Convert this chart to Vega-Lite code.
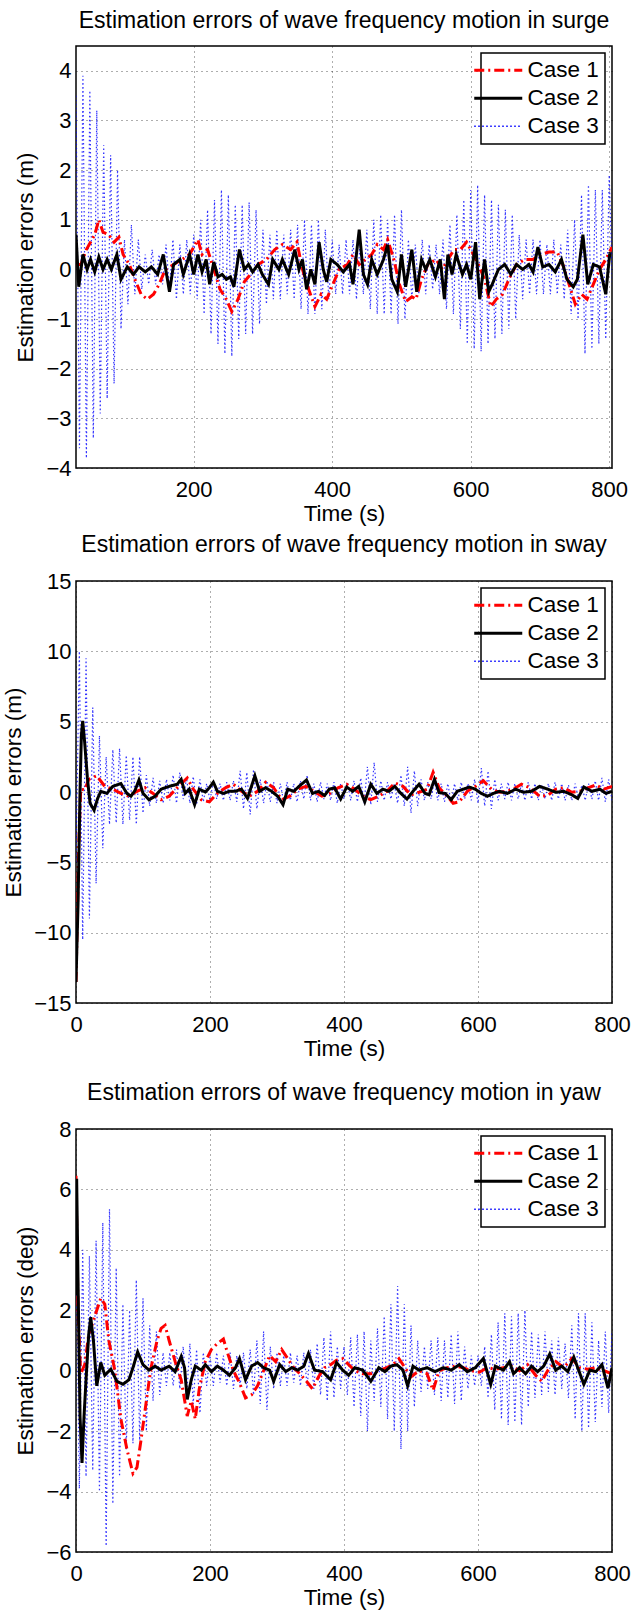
{
"$schema": "https://vega.github.io/schema/vega-lite/v6.json",
"background": "white",
"padding": {"left": 1, "top": 9, "right": 5, "bottom": 5},
"spacing": 7,
"resolve": {"scale": {"color": "independent", "strokeDash": "independent"}},
"datasets": {
"surge": [
{"c":"Case 3","t":30,"v":3.5},{"c":"Case 3","t":35,"v":-3.6},{"c":"Case 3","t":40,"v":3.9},{"c":"Case 3","t":45,"v":-3.8},{"c":"Case 3","t":50,"v":3.6},{"c":"Case 3","t":55,"v":-3.4},{"c":"Case 3","t":60,"v":3.2},{"c":"Case 3","t":65,"v":-2.9},{"c":"Case 3","t":70,"v":2.5},{"c":"Case 3","t":75,"v":-2.6},{"c":"Case 3","t":80,"v":2.3},{"c":"Case 3","t":85,"v":-2.3},{"c":"Case 3","t":90,"v":2.0},{"c":"Case 3","t":95,"v":-1.2},{"c":"Case 3","t":100,"v":0.6},{"c":"Case 3","t":105,"v":-0.7},{"c":"Case 3","t":110,"v":0.9},{"c":"Case 3","t":115,"v":-0.5},{"c":"Case 3","t":120,"v":0.6},{"c":"Case 3","t":125,"v":-0.4},{"c":"Case 3","t":130,"v":0.3},{"c":"Case 3","t":135,"v":-0.3},{"c":"Case 3","t":140,"v":0.4},{"c":"Case 3","t":145,"v":-0.3},{"c":"Case 3","t":150,"v":0.3},{"c":"Case 3","t":155,"v":-0.3},{"c":"Case 3","t":160,"v":0.5},{"c":"Case 3","t":165,"v":-0.4},{"c":"Case 3","t":170,"v":0.6},{"c":"Case 3","t":175,"v":-0.6},{"c":"Case 3","t":180,"v":0.5},{"c":"Case 3","t":185,"v":-0.5},{"c":"Case 3","t":190,"v":0.6},{"c":"Case 3","t":195,"v":-0.5},{"c":"Case 3","t":200,"v":0.7},{"c":"Case 3","t":205,"v":-0.6},{"c":"Case 3","t":210,"v":1.0},{"c":"Case 3","t":215,"v":-0.9},{"c":"Case 3","t":220,"v":1.2},{"c":"Case 3","t":225,"v":-1.3},{"c":"Case 3","t":230,"v":1.4},{"c":"Case 3","t":235,"v":-1.5},{"c":"Case 3","t":240,"v":1.6},{"c":"Case 3","t":245,"v":-1.7},{"c":"Case 3","t":250,"v":1.5},{"c":"Case 3","t":255,"v":-1.75},{"c":"Case 3","t":260,"v":1.3},{"c":"Case 3","t":265,"v":-1.4},{"c":"Case 3","t":270,"v":1.3},{"c":"Case 3","t":275,"v":-1.3},{"c":"Case 3","t":280,"v":1.35},{"c":"Case 3","t":285,"v":-1.3},{"c":"Case 3","t":290,"v":1.2},{"c":"Case 3","t":295,"v":-1.1},{"c":"Case 3","t":300,"v":0.8},{"c":"Case 3","t":305,"v":-0.7},{"c":"Case 3","t":310,"v":0.7},{"c":"Case 3","t":315,"v":-0.6},{"c":"Case 3","t":320,"v":0.8},{"c":"Case 3","t":325,"v":-0.6},{"c":"Case 3","t":330,"v":0.7},{"c":"Case 3","t":335,"v":-0.5},{"c":"Case 3","t":340,"v":0.8},{"c":"Case 3","t":345,"v":-0.6},{"c":"Case 3","t":350,"v":0.9},{"c":"Case 3","t":355,"v":-0.8},{"c":"Case 3","t":360,"v":1.0},{"c":"Case 3","t":365,"v":-0.9},{"c":"Case 3","t":370,"v":0.9},{"c":"Case 3","t":375,"v":-0.9},{"c":"Case 3","t":380,"v":1.0},{"c":"Case 3","t":385,"v":-0.8},{"c":"Case 3","t":390,"v":0.8},{"c":"Case 3","t":395,"v":-0.6},{"c":"Case 3","t":400,"v":0.6},{"c":"Case 3","t":405,"v":-0.5},{"c":"Case 3","t":410,"v":0.5},{"c":"Case 3","t":415,"v":-0.5},{"c":"Case 3","t":420,"v":0.6},{"c":"Case 3","t":425,"v":-0.5},{"c":"Case 3","t":430,"v":0.6},{"c":"Case 3","t":435,"v":-0.6},{"c":"Case 3","t":440,"v":0.5},{"c":"Case 3","t":445,"v":-0.5},{"c":"Case 3","t":450,"v":0.8},{"c":"Case 3","t":455,"v":-0.8},{"c":"Case 3","t":460,"v":1.0},{"c":"Case 3","t":465,"v":-0.9},{"c":"Case 3","t":470,"v":1.1},{"c":"Case 3","t":475,"v":-0.9},{"c":"Case 3","t":480,"v":1.0},{"c":"Case 3","t":485,"v":-0.9},{"c":"Case 3","t":490,"v":1.1},{"c":"Case 3","t":495,"v":-1.1},{"c":"Case 3","t":500,"v":1.2},{"c":"Case 3","t":505,"v":-1.0},{"c":"Case 3","t":510,"v":0.6},{"c":"Case 3","t":515,"v":-0.6},{"c":"Case 3","t":520,"v":0.5},{"c":"Case 3","t":525,"v":-0.5},{"c":"Case 3","t":530,"v":0.6},{"c":"Case 3","t":535,"v":-0.5},{"c":"Case 3","t":540,"v":0.5},{"c":"Case 3","t":545,"v":-0.4},{"c":"Case 3","t":550,"v":0.5},{"c":"Case 3","t":555,"v":-0.5},{"c":"Case 3","t":560,"v":0.6},{"c":"Case 3","t":565,"v":-0.8},{"c":"Case 3","t":570,"v":0.9},{"c":"Case 3","t":575,"v":-0.9},{"c":"Case 3","t":580,"v":1.1},{"c":"Case 3","t":585,"v":-1.2},{"c":"Case 3","t":590,"v":1.4},{"c":"Case 3","t":595,"v":-1.5},{"c":"Case 3","t":600,"v":1.6},{"c":"Case 3","t":605,"v":-1.6},{"c":"Case 3","t":610,"v":1.7},{"c":"Case 3","t":615,"v":-1.65},{"c":"Case 3","t":620,"v":1.5},{"c":"Case 3","t":625,"v":-1.5},{"c":"Case 3","t":630,"v":1.4},{"c":"Case 3","t":635,"v":-1.4},{"c":"Case 3","t":640,"v":1.3},{"c":"Case 3","t":645,"v":-1.3},{"c":"Case 3","t":650,"v":1.2},{"c":"Case 3","t":655,"v":-1.2},{"c":"Case 3","t":660,"v":1.1},{"c":"Case 3","t":665,"v":-1.0},{"c":"Case 3","t":670,"v":0.7},{"c":"Case 3","t":675,"v":-0.6},{"c":"Case 3","t":680,"v":0.6},{"c":"Case 3","t":685,"v":-0.5},{"c":"Case 3","t":690,"v":0.6},{"c":"Case 3","t":695,"v":-0.5},{"c":"Case 3","t":700,"v":0.6},{"c":"Case 3","t":705,"v":-0.5},{"c":"Case 3","t":710,"v":0.5},{"c":"Case 3","t":715,"v":-0.5},{"c":"Case 3","t":720,"v":0.6},{"c":"Case 3","t":725,"v":-0.5},{"c":"Case 3","t":730,"v":0.5},{"c":"Case 3","t":735,"v":-0.6},{"c":"Case 3","t":740,"v":0.8},{"c":"Case 3","t":745,"v":-0.9},{"c":"Case 3","t":750,"v":1.0},{"c":"Case 3","t":755,"v":-1.0},{"c":"Case 3","t":760,"v":1.5},{"c":"Case 3","t":765,"v":-1.7},{"c":"Case 3","t":770,"v":1.7},{"c":"Case 3","t":775,"v":-1.6},{"c":"Case 3","t":780,"v":1.6},{"c":"Case 3","t":785,"v":-1.5},{"c":"Case 3","t":790,"v":1.6},{"c":"Case 3","t":795,"v":-1.4},{"c":"Case 3","t":800,"v":1.9},{"c":"Case 3","t":805,"v":-0.5},
{"c":"Case 1","t":30,"v":0.1},{"c":"Case 1","t":37,"v":0.1},{"c":"Case 1","t":45,"v":0.4},{"c":"Case 1","t":57,"v":0.7},{"c":"Case 1","t":63,"v":1.0},{"c":"Case 1","t":69,"v":0.75},{"c":"Case 1","t":77,"v":0.7},{"c":"Case 1","t":85,"v":0.55},{"c":"Case 1","t":92,"v":0.65},{"c":"Case 1","t":98,"v":0.3},{"c":"Case 1","t":107,"v":0.1},{"c":"Case 1","t":115,"v":-0.2},{"c":"Case 1","t":124,"v":-0.5},{"c":"Case 1","t":133,"v":-0.6},{"c":"Case 1","t":142,"v":-0.5},{"c":"Case 1","t":150,"v":-0.3},{"c":"Case 1","t":159,"v":0.0},{"c":"Case 1","t":171,"v":0.1},{"c":"Case 1","t":183,"v":0.2},{"c":"Case 1","t":194,"v":0.3},{"c":"Case 1","t":206,"v":0.6},{"c":"Case 1","t":212,"v":0.3},{"c":"Case 1","t":220,"v":0.4},{"c":"Case 1","t":229,"v":0.0},{"c":"Case 1","t":238,"v":-0.4},{"c":"Case 1","t":247,"v":-0.6},{"c":"Case 1","t":255,"v":-0.85},{"c":"Case 1","t":264,"v":-0.6},{"c":"Case 1","t":273,"v":-0.25},{"c":"Case 1","t":282,"v":-0.1},{"c":"Case 1","t":293,"v":0.1},{"c":"Case 1","t":305,"v":0.2},{"c":"Case 1","t":317,"v":0.4},{"c":"Case 1","t":328,"v":0.5},{"c":"Case 1","t":340,"v":0.4},{"c":"Case 1","t":349,"v":0.55},{"c":"Case 1","t":357,"v":0.0},{"c":"Case 1","t":366,"v":-0.4},{"c":"Case 1","t":375,"v":-0.75},{"c":"Case 1","t":384,"v":-0.5},{"c":"Case 1","t":392,"v":-0.6},{"c":"Case 1","t":401,"v":-0.3},{"c":"Case 1","t":410,"v":0.0},{"c":"Case 1","t":422,"v":0.1},{"c":"Case 1","t":430,"v":0.3},{"c":"Case 1","t":439,"v":0.1},{"c":"Case 1","t":448,"v":0.2},{"c":"Case 1","t":457,"v":0.3},{"c":"Case 1","t":465,"v":0.5},{"c":"Case 1","t":474,"v":0.4},{"c":"Case 1","t":480,"v":0.6},{"c":"Case 1","t":489,"v":0.2},{"c":"Case 1","t":497,"v":-0.3},{"c":"Case 1","t":506,"v":-0.65},{"c":"Case 1","t":515,"v":-0.55},{"c":"Case 1","t":521,"v":-0.6},{"c":"Case 1","t":529,"v":-0.2},{"c":"Case 1","t":538,"v":0.1},{"c":"Case 1","t":550,"v":0.2},{"c":"Case 1","t":559,"v":0.0},{"c":"Case 1","t":567,"v":0.2},{"c":"Case 1","t":576,"v":0.4},{"c":"Case 1","t":585,"v":0.4},{"c":"Case 1","t":594,"v":0.55},{"c":"Case 1","t":602,"v":0.35},{"c":"Case 1","t":611,"v":0.1},{"c":"Case 1","t":620,"v":-0.2},{"c":"Case 1","t":629,"v":-0.75},{"c":"Case 1","t":637,"v":-0.6},{"c":"Case 1","t":646,"v":-0.5},{"c":"Case 1","t":655,"v":-0.2},{"c":"Case 1","t":666,"v":0.1},{"c":"Case 1","t":678,"v":0.2},{"c":"Case 1","t":690,"v":0.2},{"c":"Case 1","t":701,"v":0.3},{"c":"Case 1","t":713,"v":0.35},{"c":"Case 1","t":725,"v":0.35},{"c":"Case 1","t":733,"v":0.1},{"c":"Case 1","t":742,"v":-0.3},{"c":"Case 1","t":751,"v":-0.7},{"c":"Case 1","t":760,"v":-0.5},{"c":"Case 1","t":768,"v":-0.6},{"c":"Case 1","t":777,"v":-0.3},{"c":"Case 1","t":786,"v":0.0},{"c":"Case 1","t":795,"v":0.2},{"c":"Case 1","t":804,"v":0.45},
{"c":"Case 2","t":30,"v":0.7},{"c":"Case 2","t":34,"v":-0.35},{"c":"Case 2","t":40,"v":0.3},{"c":"Case 2","t":46,"v":0.0},{"c":"Case 2","t":51,"v":0.2},{"c":"Case 2","t":57,"v":-0.05},{"c":"Case 2","t":63,"v":0.25},{"c":"Case 2","t":69,"v":0.0},{"c":"Case 2","t":75,"v":0.2},{"c":"Case 2","t":81,"v":0.0},{"c":"Case 2","t":89,"v":0.3},{"c":"Case 2","t":95,"v":-0.2},{"c":"Case 2","t":104,"v":0.05},{"c":"Case 2","t":113,"v":-0.1},{"c":"Case 2","t":121,"v":0.05},{"c":"Case 2","t":130,"v":-0.05},{"c":"Case 2","t":139,"v":0.05},{"c":"Case 2","t":148,"v":-0.1},{"c":"Case 2","t":156,"v":0.3},{"c":"Case 2","t":165,"v":-0.45},{"c":"Case 2","t":171,"v":0.1},{"c":"Case 2","t":180,"v":0.2},{"c":"Case 2","t":185,"v":-0.1},{"c":"Case 2","t":194,"v":0.3},{"c":"Case 2","t":200,"v":-0.1},{"c":"Case 2","t":206,"v":0.3},{"c":"Case 2","t":212,"v":-0.05},{"c":"Case 2","t":218,"v":0.2},{"c":"Case 2","t":223,"v":-0.3},{"c":"Case 2","t":229,"v":0.15},{"c":"Case 2","t":235,"v":-0.15},{"c":"Case 2","t":241,"v":-0.1},{"c":"Case 2","t":247,"v":-0.2},{"c":"Case 2","t":253,"v":-0.15},{"c":"Case 2","t":258,"v":-0.35},{"c":"Case 2","t":266,"v":0.4},{"c":"Case 2","t":273,"v":0.0},{"c":"Case 2","t":279,"v":0.1},{"c":"Case 2","t":285,"v":-0.05},{"c":"Case 2","t":293,"v":0.1},{"c":"Case 2","t":299,"v":-0.1},{"c":"Case 2","t":308,"v":-0.3},{"c":"Case 2","t":314,"v":0.2},{"c":"Case 2","t":323,"v":0.0},{"c":"Case 2","t":328,"v":0.2},{"c":"Case 2","t":337,"v":-0.1},{"c":"Case 2","t":346,"v":0.4},{"c":"Case 2","t":352,"v":0.0},{"c":"Case 2","t":357,"v":0.2},{"c":"Case 2","t":363,"v":-0.4},{"c":"Case 2","t":369,"v":0.0},{"c":"Case 2","t":375,"v":-0.3},{"c":"Case 2","t":381,"v":0.55},{"c":"Case 2","t":387,"v":0.0},{"c":"Case 2","t":392,"v":-0.25},{"c":"Case 2","t":398,"v":0.2},{"c":"Case 2","t":407,"v":0.1},{"c":"Case 2","t":416,"v":-0.05},{"c":"Case 2","t":425,"v":0.1},{"c":"Case 2","t":430,"v":-0.3},{"c":"Case 2","t":439,"v":0.8},{"c":"Case 2","t":445,"v":-0.1},{"c":"Case 2","t":451,"v":-0.3},{"c":"Case 2","t":457,"v":0.2},{"c":"Case 2","t":465,"v":-0.1},{"c":"Case 2","t":474,"v":0.2},{"c":"Case 2","t":480,"v":0.5},{"c":"Case 2","t":486,"v":-0.2},{"c":"Case 2","t":494,"v":-0.45},{"c":"Case 2","t":500,"v":0.3},{"c":"Case 2","t":506,"v":-0.35},{"c":"Case 2","t":515,"v":0.4},{"c":"Case 2","t":522,"v":-0.45},{"c":"Case 2","t":529,"v":0.2},{"c":"Case 2","t":535,"v":0.0},{"c":"Case 2","t":541,"v":0.2},{"c":"Case 2","t":549,"v":-0.15},{"c":"Case 2","t":556,"v":0.2},{"c":"Case 2","t":562,"v":-0.6},{"c":"Case 2","t":567,"v":0.3},{"c":"Case 2","t":573,"v":-0.1},{"c":"Case 2","t":579,"v":0.3},{"c":"Case 2","t":588,"v":-0.1},{"c":"Case 2","t":594,"v":0.1},{"c":"Case 2","t":600,"v":-0.2},{"c":"Case 2","t":607,"v":0.55},{"c":"Case 2","t":613,"v":-0.6},{"c":"Case 2","t":620,"v":0.2},{"c":"Case 2","t":626,"v":-0.45},{"c":"Case 2","t":631,"v":-0.3},{"c":"Case 2","t":640,"v":0.0},{"c":"Case 2","t":649,"v":0.1},{"c":"Case 2","t":658,"v":-0.1},{"c":"Case 2","t":666,"v":0.1},{"c":"Case 2","t":675,"v":0.0},{"c":"Case 2","t":684,"v":0.1},{"c":"Case 2","t":690,"v":-0.05},{"c":"Case 2","t":697,"v":0.45},{"c":"Case 2","t":704,"v":0.05},{"c":"Case 2","t":713,"v":0.1},{"c":"Case 2","t":722,"v":-0.05},{"c":"Case 2","t":731,"v":0.2},{"c":"Case 2","t":739,"v":-0.2},{"c":"Case 2","t":748,"v":-0.35},{"c":"Case 2","t":754,"v":-0.2},{"c":"Case 2","t":762,"v":0.7},{"c":"Case 2","t":769,"v":-0.3},{"c":"Case 2","t":777,"v":0.1},{"c":"Case 2","t":786,"v":0.05},{"c":"Case 2","t":795,"v":-0.5},{"c":"Case 2","t":801,"v":0.35}
],
"sway": [
{"c":"Case 3","t":0,"v":-5},{"c":"Case 3","t":5,"v":10},{"c":"Case 3","t":10,"v":-10.5},{"c":"Case 3","t":15,"v":9.5},{"c":"Case 3","t":20,"v":-9},{"c":"Case 3","t":25,"v":6},{"c":"Case 3","t":30,"v":-6.5},{"c":"Case 3","t":35,"v":4},{"c":"Case 3","t":40,"v":-4},{"c":"Case 3","t":45,"v":2.5},{"c":"Case 3","t":50,"v":-2.3},{"c":"Case 3","t":55,"v":3.0},{"c":"Case 3","t":60,"v":-2.2},{"c":"Case 3","t":65,"v":3.1},{"c":"Case 3","t":70,"v":-2.3},{"c":"Case 3","t":75,"v":2.6},{"c":"Case 3","t":80,"v":-2.0},{"c":"Case 3","t":85,"v":2.5},{"c":"Case 3","t":90,"v":-2.3},{"c":"Case 3","t":95,"v":2.5},{"c":"Case 3","t":100,"v":-1.5},{"c":"Case 3","t":105,"v":1.2},{"c":"Case 3","t":110,"v":-1.0},{"c":"Case 3","t":115,"v":1.0},{"c":"Case 3","t":120,"v":-0.8},{"c":"Case 3","t":125,"v":0.8},{"c":"Case 3","t":130,"v":-0.8},{"c":"Case 3","t":135,"v":0.9},{"c":"Case 3","t":140,"v":-0.6},{"c":"Case 3","t":145,"v":1.2},{"c":"Case 3","t":150,"v":-0.8},{"c":"Case 3","t":155,"v":1.4},{"c":"Case 3","t":160,"v":-0.5},{"c":"Case 3","t":165,"v":1.0},{"c":"Case 3","t":170,"v":-0.8},{"c":"Case 3","t":175,"v":1.1},{"c":"Case 3","t":180,"v":-0.9},{"c":"Case 3","t":185,"v":0.9},{"c":"Case 3","t":190,"v":-0.7},{"c":"Case 3","t":195,"v":0.6},{"c":"Case 3","t":200,"v":-0.6},{"c":"Case 3","t":205,"v":0.8},{"c":"Case 3","t":210,"v":-0.5},{"c":"Case 3","t":215,"v":0.6},{"c":"Case 3","t":220,"v":-0.6},{"c":"Case 3","t":225,"v":0.7},{"c":"Case 3","t":230,"v":-0.6},{"c":"Case 3","t":235,"v":0.8},{"c":"Case 3","t":240,"v":-0.7},{"c":"Case 3","t":245,"v":1.5},{"c":"Case 3","t":250,"v":-1.2},{"c":"Case 3","t":255,"v":1.4},{"c":"Case 3","t":260,"v":-1.6},{"c":"Case 3","t":265,"v":1.6},{"c":"Case 3","t":270,"v":-1.2},{"c":"Case 3","t":275,"v":0.9},{"c":"Case 3","t":280,"v":-0.8},{"c":"Case 3","t":285,"v":0.8},{"c":"Case 3","t":290,"v":-0.7},{"c":"Case 3","t":295,"v":0.7},{"c":"Case 3","t":300,"v":-0.8},{"c":"Case 3","t":305,"v":0.6},{"c":"Case 3","t":310,"v":-0.7},{"c":"Case 3","t":315,"v":0.7},{"c":"Case 3","t":320,"v":-0.6},{"c":"Case 3","t":325,"v":0.6},{"c":"Case 3","t":330,"v":-0.7},{"c":"Case 3","t":335,"v":0.8},{"c":"Case 3","t":340,"v":-0.5},{"c":"Case 3","t":345,"v":1.2},{"c":"Case 3","t":350,"v":-0.6},{"c":"Case 3","t":355,"v":0.6},{"c":"Case 3","t":360,"v":-0.7},{"c":"Case 3","t":365,"v":0.7},{"c":"Case 3","t":370,"v":-0.5},{"c":"Case 3","t":375,"v":0.6},{"c":"Case 3","t":380,"v":-0.6},{"c":"Case 3","t":385,"v":0.7},{"c":"Case 3","t":390,"v":-0.8},{"c":"Case 3","t":395,"v":0.6},{"c":"Case 3","t":400,"v":-0.5},{"c":"Case 3","t":405,"v":0.7},{"c":"Case 3","t":410,"v":-0.6},{"c":"Case 3","t":415,"v":0.8},{"c":"Case 3","t":420,"v":-0.7},{"c":"Case 3","t":425,"v":1.0},{"c":"Case 3","t":430,"v":-0.8},{"c":"Case 3","t":435,"v":1.8},{"c":"Case 3","t":440,"v":-0.9},{"c":"Case 3","t":445,"v":2.1},{"c":"Case 3","t":450,"v":-0.7},{"c":"Case 3","t":455,"v":0.8},{"c":"Case 3","t":460,"v":-0.6},{"c":"Case 3","t":465,"v":0.7},{"c":"Case 3","t":470,"v":-0.5},{"c":"Case 3","t":475,"v":0.6},{"c":"Case 3","t":480,"v":-0.8},{"c":"Case 3","t":485,"v":1.2},{"c":"Case 3","t":490,"v":-1.0},{"c":"Case 3","t":495,"v":1.8},{"c":"Case 3","t":500,"v":-1.5},{"c":"Case 3","t":505,"v":1.5},{"c":"Case 3","t":510,"v":-1.0},{"c":"Case 3","t":515,"v":0.9},{"c":"Case 3","t":520,"v":-0.6},{"c":"Case 3","t":525,"v":0.7},{"c":"Case 3","t":530,"v":-0.5},{"c":"Case 3","t":535,"v":0.8},{"c":"Case 3","t":540,"v":-0.6},{"c":"Case 3","t":545,"v":0.6},{"c":"Case 3","t":550,"v":-0.7},{"c":"Case 3","t":555,"v":0.6},{"c":"Case 3","t":560,"v":-0.8},{"c":"Case 3","t":565,"v":0.6},{"c":"Case 3","t":570,"v":-0.6},{"c":"Case 3","t":575,"v":0.7},{"c":"Case 3","t":580,"v":-0.5},{"c":"Case 3","t":585,"v":0.6},{"c":"Case 3","t":590,"v":-0.6},{"c":"Case 3","t":595,"v":0.9},{"c":"Case 3","t":600,"v":-0.8},{"c":"Case 3","t":605,"v":1.7},{"c":"Case 3","t":610,"v":-1.0},{"c":"Case 3","t":615,"v":1.5},{"c":"Case 3","t":620,"v":-1.2},{"c":"Case 3","t":625,"v":0.9},{"c":"Case 3","t":630,"v":-0.6},{"c":"Case 3","t":635,"v":0.6},{"c":"Case 3","t":640,"v":-0.5},{"c":"Case 3","t":645,"v":0.7},{"c":"Case 3","t":650,"v":-0.6},{"c":"Case 3","t":655,"v":0.6},{"c":"Case 3","t":660,"v":-0.5},{"c":"Case 3","t":665,"v":0.6},{"c":"Case 3","t":670,"v":-0.6},{"c":"Case 3","t":675,"v":0.7},{"c":"Case 3","t":680,"v":-0.5},{"c":"Case 3","t":685,"v":0.6},{"c":"Case 3","t":690,"v":-0.6},{"c":"Case 3","t":695,"v":0.5},{"c":"Case 3","t":700,"v":-0.5},{"c":"Case 3","t":705,"v":0.6},{"c":"Case 3","t":710,"v":-0.6},{"c":"Case 3","t":715,"v":0.7},{"c":"Case 3","t":720,"v":-0.5},{"c":"Case 3","t":725,"v":0.6},{"c":"Case 3","t":730,"v":-0.6},{"c":"Case 3","t":735,"v":0.5},{"c":"Case 3","t":740,"v":-0.6},{"c":"Case 3","t":745,"v":0.6},{"c":"Case 3","t":750,"v":-0.5},{"c":"Case 3","t":755,"v":0.5},{"c":"Case 3","t":760,"v":-0.6},{"c":"Case 3","t":765,"v":0.6},{"c":"Case 3","t":770,"v":-0.5},{"c":"Case 3","t":775,"v":0.8},{"c":"Case 3","t":780,"v":-0.6},{"c":"Case 3","t":785,"v":1.0},{"c":"Case 3","t":790,"v":-0.7},{"c":"Case 3","t":795,"v":0.9},{"c":"Case 3","t":800,"v":-0.6},
{"c":"Case 1","t":0,"v":-13.5},{"c":"Case 1","t":4,"v":-4},{"c":"Case 1","t":7,"v":0.2},{"c":"Case 1","t":13,"v":0.15},{"c":"Case 1","t":19,"v":0.9},{"c":"Case 1","t":31,"v":1.15},{"c":"Case 1","t":43,"v":0.4},{"c":"Case 1","t":55,"v":0.2},{"c":"Case 1","t":67,"v":-0.1},{"c":"Case 1","t":79,"v":-0.3},{"c":"Case 1","t":91,"v":0.05},{"c":"Case 1","t":103,"v":0.3},{"c":"Case 1","t":115,"v":-0.1},{"c":"Case 1","t":127,"v":-0.55},{"c":"Case 1","t":139,"v":-0.3},{"c":"Case 1","t":151,"v":0.3},{"c":"Case 1","t":166,"v":1.0},{"c":"Case 1","t":175,"v":0.2},{"c":"Case 1","t":187,"v":-0.55},{"c":"Case 1","t":199,"v":-0.7},{"c":"Case 1","t":211,"v":-0.1},{"c":"Case 1","t":223,"v":0.3},{"c":"Case 1","t":235,"v":0.55},{"c":"Case 1","t":247,"v":0.05},{"c":"Case 1","t":259,"v":-0.3},{"c":"Case 1","t":271,"v":0.05},{"c":"Case 1","t":283,"v":0.7},{"c":"Case 1","t":295,"v":0.3},{"c":"Case 1","t":307,"v":-0.55},{"c":"Case 1","t":319,"v":-0.3},{"c":"Case 1","t":331,"v":0.2},{"c":"Case 1","t":343,"v":0.4},{"c":"Case 1","t":355,"v":0.05},{"c":"Case 1","t":367,"v":-0.3},{"c":"Case 1","t":379,"v":-0.1},{"c":"Case 1","t":391,"v":0.3},{"c":"Case 1","t":404,"v":0.55},{"c":"Case 1","t":416,"v":0.2},{"c":"Case 1","t":428,"v":-0.3},{"c":"Case 1","t":440,"v":-0.55},{"c":"Case 1","t":452,"v":-0.3},{"c":"Case 1","t":464,"v":0.05},{"c":"Case 1","t":476,"v":0.65},{"c":"Case 1","t":488,"v":0.4},{"c":"Case 1","t":500,"v":-0.2},{"c":"Case 1","t":512,"v":-0.02},{"c":"Case 1","t":524,"v":0.2},{"c":"Case 1","t":533,"v":1.4},{"c":"Case 1","t":542,"v":0.3},{"c":"Case 1","t":554,"v":-0.3},{"c":"Case 1","t":563,"v":-0.8},{"c":"Case 1","t":572,"v":-0.7},{"c":"Case 1","t":584,"v":0.05},{"c":"Case 1","t":596,"v":0.4},{"c":"Case 1","t":608,"v":0.8},{"c":"Case 1","t":620,"v":0.2},{"c":"Case 1","t":632,"v":-0.02},{"c":"Case 1","t":644,"v":0.05},{"c":"Case 1","t":656,"v":0.3},{"c":"Case 1","t":665,"v":0.55},{"c":"Case 1","t":677,"v":0.3},{"c":"Case 1","t":692,"v":-0.3},{"c":"Case 1","t":704,"v":-0.25},{"c":"Case 1","t":716,"v":0.2},{"c":"Case 1","t":728,"v":0.3},{"c":"Case 1","t":740,"v":-0.02},{"c":"Case 1","t":752,"v":0.05},{"c":"Case 1","t":764,"v":0.3},{"c":"Case 1","t":776,"v":0.5},{"c":"Case 1","t":788,"v":0.2},{"c":"Case 1","t":800,"v":0.4},
{"c":"Case 2","t":0,"v":-13.5},{"c":"Case 2","t":3,"v":-8},{"c":"Case 2","t":6,"v":0},{"c":"Case 2","t":8,"v":4},{"c":"Case 2","t":10,"v":5.06},{"c":"Case 2","t":13,"v":3.5},{"c":"Case 2","t":17,"v":1.0},{"c":"Case 2","t":21,"v":-0.8},{"c":"Case 2","t":27,"v":-1.3},{"c":"Case 2","t":32,"v":-0.5},{"c":"Case 2","t":37,"v":0.05},{"c":"Case 2","t":46,"v":-0.1},{"c":"Case 2","t":55,"v":0.4},{"c":"Case 2","t":67,"v":0.6},{"c":"Case 2","t":76,"v":-0.1},{"c":"Case 2","t":82,"v":-0.3},{"c":"Case 2","t":88,"v":0.1},{"c":"Case 2","t":94,"v":0.85},{"c":"Case 2","t":100,"v":-0.1},{"c":"Case 2","t":109,"v":-0.55},{"c":"Case 2","t":118,"v":-0.3},{"c":"Case 2","t":127,"v":0.2},{"c":"Case 2","t":139,"v":0.4},{"c":"Case 2","t":151,"v":0.55},{"c":"Case 2","t":157,"v":0.9},{"c":"Case 2","t":163,"v":-0.1},{"c":"Case 2","t":169,"v":0.2},{"c":"Case 2","t":177,"v":-0.9},{"c":"Case 2","t":184,"v":0.2},{"c":"Case 2","t":193,"v":0.0},{"c":"Case 2","t":199,"v":0.3},{"c":"Case 2","t":205,"v":0.7},{"c":"Case 2","t":211,"v":0.05},{"c":"Case 2","t":220,"v":-0.1},{"c":"Case 2","t":229,"v":0.05},{"c":"Case 2","t":238,"v":0.05},{"c":"Case 2","t":247,"v":0.2},{"c":"Case 2","t":256,"v":-0.45},{"c":"Case 2","t":267,"v":1.15},{"c":"Case 2","t":274,"v":0.05},{"c":"Case 2","t":283,"v":0.3},{"c":"Case 2","t":292,"v":0.05},{"c":"Case 2","t":301,"v":-0.3},{"c":"Case 2","t":309,"v":-0.9},{"c":"Case 2","t":316,"v":0.2},{"c":"Case 2","t":325,"v":0.05},{"c":"Case 2","t":334,"v":0.45},{"c":"Case 2","t":344,"v":0.85},{"c":"Case 2","t":353,"v":-0.1},{"c":"Case 2","t":362,"v":0.05},{"c":"Case 2","t":371,"v":-0.25},{"c":"Case 2","t":378,"v":0.2},{"c":"Case 2","t":386,"v":0.3},{"c":"Case 2","t":395,"v":-0.5},{"c":"Case 2","t":404,"v":0.35},{"c":"Case 2","t":413,"v":0.05},{"c":"Case 2","t":422,"v":0.4},{"c":"Case 2","t":431,"v":-0.7},{"c":"Case 2","t":440,"v":0.55},{"c":"Case 2","t":449,"v":-0.1},{"c":"Case 2","t":458,"v":0.2},{"c":"Case 2","t":467,"v":0.05},{"c":"Case 2","t":476,"v":0.4},{"c":"Case 2","t":485,"v":-0.1},{"c":"Case 2","t":494,"v":-0.5},{"c":"Case 2","t":503,"v":0.05},{"c":"Case 2","t":512,"v":0.55},{"c":"Case 2","t":521,"v":-0.1},{"c":"Case 2","t":527,"v":-0.2},{"c":"Case 2","t":535,"v":0.9},{"c":"Case 2","t":542,"v":-0.05},{"c":"Case 2","t":551,"v":-0.1},{"c":"Case 2","t":560,"v":-0.55},{"c":"Case 2","t":569,"v":0.05},{"c":"Case 2","t":578,"v":0.2},{"c":"Case 2","t":587,"v":0.35},{"c":"Case 2","t":596,"v":0.2},{"c":"Case 2","t":605,"v":-0.1},{"c":"Case 2","t":614,"v":-0.3},{"c":"Case 2","t":623,"v":-0.1},{"c":"Case 2","t":632,"v":0.05},{"c":"Case 2","t":644,"v":-0.1},{"c":"Case 2","t":656,"v":0.2},{"c":"Case 2","t":668,"v":-0.02},{"c":"Case 2","t":680,"v":0.05},{"c":"Case 2","t":692,"v":0.4},{"c":"Case 2","t":704,"v":0.2},{"c":"Case 2","t":716,"v":-0.02},{"c":"Case 2","t":728,"v":0.05},{"c":"Case 2","t":740,"v":-0.2},{"c":"Case 2","t":749,"v":-0.45},{"c":"Case 2","t":758,"v":0.35},{"c":"Case 2","t":770,"v":0.05},{"c":"Case 2","t":782,"v":0.2},{"c":"Case 2","t":791,"v":-0.1},{"c":"Case 2","t":800,"v":0.05}
],
"yaw": [
{"c":"Case 3","t":0,"v":4.5},{"c":"Case 3","t":5,"v":-3.9},{"c":"Case 3","t":10,"v":4.0},{"c":"Case 3","t":15,"v":-3.5},{"c":"Case 3","t":20,"v":3.8},{"c":"Case 3","t":25,"v":-3.3},{"c":"Case 3","t":30,"v":4.3},{"c":"Case 3","t":35,"v":-4.0},{"c":"Case 3","t":40,"v":4.9},{"c":"Case 3","t":45,"v":-5.8},{"c":"Case 3","t":50,"v":5.35},{"c":"Case 3","t":55,"v":-4.4},{"c":"Case 3","t":60,"v":3.4},{"c":"Case 3","t":65,"v":-3.5},{"c":"Case 3","t":70,"v":2.2},{"c":"Case 3","t":75,"v":-2.6},{"c":"Case 3","t":80,"v":2.0},{"c":"Case 3","t":85,"v":-2.4},{"c":"Case 3","t":90,"v":3.0},{"c":"Case 3","t":95,"v":-2.3},{"c":"Case 3","t":100,"v":2.4},{"c":"Case 3","t":105,"v":-2.0},{"c":"Case 3","t":110,"v":1.5},{"c":"Case 3","t":115,"v":-1.0},{"c":"Case 3","t":120,"v":1.3},{"c":"Case 3","t":125,"v":-0.8},{"c":"Case 3","t":130,"v":0.6},{"c":"Case 3","t":135,"v":-0.5},{"c":"Case 3","t":140,"v":0.6},{"c":"Case 3","t":145,"v":-0.5},{"c":"Case 3","t":150,"v":0.7},{"c":"Case 3","t":155,"v":-0.6},{"c":"Case 3","t":160,"v":0.8},{"c":"Case 3","t":165,"v":-0.9},{"c":"Case 3","t":170,"v":0.9},{"c":"Case 3","t":175,"v":-1.1},{"c":"Case 3","t":180,"v":0.7},{"c":"Case 3","t":185,"v":-1.4},{"c":"Case 3","t":190,"v":0.6},{"c":"Case 3","t":195,"v":-0.5},{"c":"Case 3","t":200,"v":0.5},{"c":"Case 3","t":205,"v":-0.5},{"c":"Case 3","t":210,"v":0.6},{"c":"Case 3","t":215,"v":-0.4},{"c":"Case 3","t":220,"v":0.5},{"c":"Case 3","t":225,"v":-0.5},{"c":"Case 3","t":230,"v":0.6},{"c":"Case 3","t":235,"v":-0.6},{"c":"Case 3","t":240,"v":0.5},{"c":"Case 3","t":245,"v":-0.5},{"c":"Case 3","t":250,"v":0.6},{"c":"Case 3","t":255,"v":-0.6},{"c":"Case 3","t":260,"v":0.7},{"c":"Case 3","t":265,"v":-0.8},{"c":"Case 3","t":270,"v":1.0},{"c":"Case 3","t":275,"v":-1.1},{"c":"Case 3","t":280,"v":1.3},{"c":"Case 3","t":285,"v":-1.3},{"c":"Case 3","t":290,"v":0.8},{"c":"Case 3","t":295,"v":-0.6},{"c":"Case 3","t":300,"v":0.6},{"c":"Case 3","t":305,"v":-0.5},{"c":"Case 3","t":310,"v":0.5},{"c":"Case 3","t":315,"v":-0.5},{"c":"Case 3","t":320,"v":0.6},{"c":"Case 3","t":325,"v":-0.4},{"c":"Case 3","t":330,"v":0.5},{"c":"Case 3","t":335,"v":-0.5},{"c":"Case 3","t":340,"v":0.6},{"c":"Case 3","t":345,"v":-0.5},{"c":"Case 3","t":350,"v":0.7},{"c":"Case 3","t":355,"v":-0.6},{"c":"Case 3","t":360,"v":0.9},{"c":"Case 3","t":365,"v":-0.8},{"c":"Case 3","t":370,"v":1.1},{"c":"Case 3","t":375,"v":-1.0},{"c":"Case 3","t":380,"v":1.3},{"c":"Case 3","t":385,"v":-0.9},{"c":"Case 3","t":390,"v":0.8},{"c":"Case 3","t":395,"v":-0.6},{"c":"Case 3","t":400,"v":0.8},{"c":"Case 3","t":405,"v":-0.8},{"c":"Case 3","t":410,"v":1.1},{"c":"Case 3","t":415,"v":-1.2},{"c":"Case 3","t":420,"v":1.2},{"c":"Case 3","t":425,"v":-1.5},{"c":"Case 3","t":430,"v":1.3},{"c":"Case 3","t":435,"v":-2.0},{"c":"Case 3","t":440,"v":1.0},{"c":"Case 3","t":445,"v":-1.0},{"c":"Case 3","t":450,"v":1.4},{"c":"Case 3","t":455,"v":-1.2},{"c":"Case 3","t":460,"v":1.8},{"c":"Case 3","t":465,"v":-1.6},{"c":"Case 3","t":470,"v":2.2},{"c":"Case 3","t":475,"v":-2.0},{"c":"Case 3","t":480,"v":2.8},{"c":"Case 3","t":485,"v":-2.6},{"c":"Case 3","t":490,"v":2.2},{"c":"Case 3","t":495,"v":-2.0},{"c":"Case 3","t":500,"v":1.5},{"c":"Case 3","t":505,"v":-1.2},{"c":"Case 3","t":510,"v":1.0},{"c":"Case 3","t":515,"v":-0.7},{"c":"Case 3","t":520,"v":0.8},{"c":"Case 3","t":525,"v":-0.6},{"c":"Case 3","t":530,"v":1.0},{"c":"Case 3","t":535,"v":-0.8},{"c":"Case 3","t":540,"v":1.1},{"c":"Case 3","t":545,"v":-1.0},{"c":"Case 3","t":550,"v":1.0},{"c":"Case 3","t":555,"v":-0.9},{"c":"Case 3","t":560,"v":1.2},{"c":"Case 3","t":565,"v":-1.1},{"c":"Case 3","t":570,"v":1.3},{"c":"Case 3","t":575,"v":-1.0},{"c":"Case 3","t":580,"v":0.8},{"c":"Case 3","t":585,"v":-0.6},{"c":"Case 3","t":590,"v":0.5},{"c":"Case 3","t":595,"v":-0.5},{"c":"Case 3","t":600,"v":0.5},{"c":"Case 3","t":605,"v":-0.5},{"c":"Case 3","t":610,"v":0.8},{"c":"Case 3","t":615,"v":-0.9},{"c":"Case 3","t":620,"v":1.2},{"c":"Case 3","t":625,"v":-1.3},{"c":"Case 3","t":630,"v":1.6},{"c":"Case 3","t":635,"v":-1.6},{"c":"Case 3","t":640,"v":1.9},{"c":"Case 3","t":645,"v":-1.8},{"c":"Case 3","t":650,"v":1.8},{"c":"Case 3","t":655,"v":-1.7},{"c":"Case 3","t":660,"v":1.9},{"c":"Case 3","t":665,"v":-1.8},{"c":"Case 3","t":670,"v":2.0},{"c":"Case 3","t":675,"v":-1.2},{"c":"Case 3","t":680,"v":1.3},{"c":"Case 3","t":685,"v":-0.9},{"c":"Case 3","t":690,"v":1.2},{"c":"Case 3","t":695,"v":-0.8},{"c":"Case 3","t":700,"v":1.3},{"c":"Case 3","t":705,"v":-0.7},{"c":"Case 3","t":710,"v":1.0},{"c":"Case 3","t":715,"v":-0.8},{"c":"Case 3","t":720,"v":1.1},{"c":"Case 3","t":725,"v":-0.6},{"c":"Case 3","t":730,"v":0.9},{"c":"Case 3","t":735,"v":-0.9},{"c":"Case 3","t":740,"v":1.5},{"c":"Case 3","t":745,"v":-1.6},{"c":"Case 3","t":750,"v":1.9},{"c":"Case 3","t":755,"v":-2.0},{"c":"Case 3","t":760,"v":1.9},{"c":"Case 3","t":765,"v":-1.9},{"c":"Case 3","t":770,"v":1.6},{"c":"Case 3","t":775,"v":-1.7},{"c":"Case 3","t":780,"v":1.0},{"c":"Case 3","t":785,"v":-1.2},{"c":"Case 3","t":790,"v":1.3},{"c":"Case 3","t":795,"v":-1.4},{"c":"Case 3","t":800,"v":1.3},
{"c":"Case 1","t":0,"v":6.45},{"c":"Case 1","t":3,"v":2.0},{"c":"Case 1","t":7,"v":-0.1},{"c":"Case 1","t":13,"v":0.2},{"c":"Case 1","t":19,"v":1.2},{"c":"Case 1","t":31,"v":2.0},{"c":"Case 1","t":37,"v":2.4},{"c":"Case 1","t":43,"v":2.2},{"c":"Case 1","t":49,"v":1.0},{"c":"Case 1","t":58,"v":0.0},{"c":"Case 1","t":67,"v":-1.6},{"c":"Case 1","t":76,"v":-2.6},{"c":"Case 1","t":85,"v":-3.4},{"c":"Case 1","t":91,"v":-3.2},{"c":"Case 1","t":97,"v":-2.3},{"c":"Case 1","t":105,"v":-1.0},{"c":"Case 1","t":112,"v":0.1},{"c":"Case 1","t":121,"v":1.0},{"c":"Case 1","t":127,"v":1.4},{"c":"Case 1","t":133,"v":1.5},{"c":"Case 1","t":139,"v":1.0},{"c":"Case 1","t":148,"v":0.3},{"c":"Case 1","t":157,"v":-0.3},{"c":"Case 1","t":166,"v":-1.5},{"c":"Case 1","t":172,"v":-1.0},{"c":"Case 1","t":178,"v":-1.6},{"c":"Case 1","t":184,"v":-0.6},{"c":"Case 1","t":193,"v":0.3},{"c":"Case 1","t":202,"v":0.7},{"c":"Case 1","t":211,"v":0.9},{"c":"Case 1","t":220,"v":1.05},{"c":"Case 1","t":226,"v":0.6},{"c":"Case 1","t":235,"v":0.0},{"c":"Case 1","t":244,"v":-0.4},{"c":"Case 1","t":253,"v":-0.9},{"c":"Case 1","t":262,"v":-0.8},{"c":"Case 1","t":271,"v":-0.5},{"c":"Case 1","t":280,"v":0.0},{"c":"Case 1","t":289,"v":0.5},{"c":"Case 1","t":298,"v":0.3},{"c":"Case 1","t":307,"v":0.7},{"c":"Case 1","t":316,"v":0.4},{"c":"Case 1","t":325,"v":0.1},{"c":"Case 1","t":334,"v":-0.1},{"c":"Case 1","t":344,"v":-0.35},{"c":"Case 1","t":353,"v":-0.6},{"c":"Case 1","t":362,"v":-0.2},{"c":"Case 1","t":371,"v":0.1},{"c":"Case 1","t":380,"v":0.2},{"c":"Case 1","t":389,"v":0.35},{"c":"Case 1","t":398,"v":0.4},{"c":"Case 1","t":407,"v":0.2},{"c":"Case 1","t":416,"v":0.0},{"c":"Case 1","t":428,"v":-0.1},{"c":"Case 1","t":440,"v":-0.1},{"c":"Case 1","t":452,"v":0.0},{"c":"Case 1","t":464,"v":0.1},{"c":"Case 1","t":473,"v":0.2},{"c":"Case 1","t":482,"v":0.4},{"c":"Case 1","t":491,"v":0.1},{"c":"Case 1","t":500,"v":-0.2},{"c":"Case 1","t":512,"v":0.0},{"c":"Case 1","t":524,"v":-0.1},{"c":"Case 1","t":533,"v":-0.65},{"c":"Case 1","t":542,"v":0.0},{"c":"Case 1","t":554,"v":0.1},{"c":"Case 1","t":566,"v":0.15},{"c":"Case 1","t":578,"v":0.1},{"c":"Case 1","t":590,"v":0.0},{"c":"Case 1","t":602,"v":-0.05},{"c":"Case 1","t":614,"v":0.1},{"c":"Case 1","t":626,"v":0.05},{"c":"Case 1","t":638,"v":0.1},{"c":"Case 1","t":650,"v":0.15},{"c":"Case 1","t":662,"v":0.0},{"c":"Case 1","t":674,"v":0.2},{"c":"Case 1","t":686,"v":-0.15},{"c":"Case 1","t":695,"v":-0.35},{"c":"Case 1","t":704,"v":0.0},{"c":"Case 1","t":716,"v":0.3},{"c":"Case 1","t":728,"v":0.1},{"c":"Case 1","t":740,"v":0.4},{"c":"Case 1","t":752,"v":0.1},{"c":"Case 1","t":764,"v":0.05},{"c":"Case 1","t":776,"v":0.1},{"c":"Case 1","t":788,"v":0.0},{"c":"Case 1","t":800,"v":-0.1},
{"c":"Case 2","t":0,"v":2.5},{"c":"Case 2","t":1,"v":6.35},{"c":"Case 2","t":3,"v":3.0},{"c":"Case 2","t":6,"v":-1.5},{"c":"Case 2","t":9,"v":-3.05},{"c":"Case 2","t":12,"v":-1.5},{"c":"Case 2","t":16,"v":0.1},{"c":"Case 2","t":19,"v":1.2},{"c":"Case 2","t":22,"v":1.77},{"c":"Case 2","t":26,"v":1.0},{"c":"Case 2","t":31,"v":-0.5},{"c":"Case 2","t":37,"v":0.27},{"c":"Case 2","t":43,"v":-0.15},{"c":"Case 2","t":52,"v":0.05},{"c":"Case 2","t":61,"v":-0.35},{"c":"Case 2","t":70,"v":-0.45},{"c":"Case 2","t":79,"v":-0.3},{"c":"Case 2","t":85,"v":0.1},{"c":"Case 2","t":92,"v":0.62},{"c":"Case 2","t":100,"v":0.2},{"c":"Case 2","t":109,"v":0.02},{"c":"Case 2","t":118,"v":0.15},{"c":"Case 2","t":127,"v":0.02},{"c":"Case 2","t":139,"v":0.15},{"c":"Case 2","t":148,"v":-0.03},{"c":"Case 2","t":157,"v":0.47},{"c":"Case 2","t":162,"v":0.1},{"c":"Case 2","t":166,"v":-0.95},{"c":"Case 2","t":172,"v":-0.3},{"c":"Case 2","t":178,"v":0.15},{"c":"Case 2","t":187,"v":0.02},{"c":"Case 2","t":193,"v":0.2},{"c":"Case 2","t":202,"v":-0.03},{"c":"Case 2","t":211,"v":0.15},{"c":"Case 2","t":220,"v":0.02},{"c":"Case 2","t":229,"v":-0.15},{"c":"Case 2","t":238,"v":0.1},{"c":"Case 2","t":244,"v":0.4},{"c":"Case 2","t":253,"v":-0.3},{"c":"Case 2","t":262,"v":0.15},{"c":"Case 2","t":271,"v":0.27},{"c":"Case 2","t":280,"v":0.1},{"c":"Case 2","t":289,"v":0.02},{"c":"Case 2","t":295,"v":-0.35},{"c":"Case 2","t":304,"v":0.2},{"c":"Case 2","t":313,"v":-0.03},{"c":"Case 2","t":322,"v":0.1},{"c":"Case 2","t":331,"v":0.02},{"c":"Case 2","t":340,"v":0.15},{"c":"Case 2","t":347,"v":0.57},{"c":"Case 2","t":356,"v":0.02},{"c":"Case 2","t":368,"v":-0.03},{"c":"Case 2","t":380,"v":-0.3},{"c":"Case 2","t":389,"v":0.27},{"c":"Case 2","t":398,"v":0.02},{"c":"Case 2","t":407,"v":-0.15},{"c":"Case 2","t":416,"v":0.1},{"c":"Case 2","t":428,"v":0.02},{"c":"Case 2","t":440,"v":-0.35},{"c":"Case 2","t":452,"v":0.1},{"c":"Case 2","t":461,"v":-0.03},{"c":"Case 2","t":470,"v":0.15},{"c":"Case 2","t":479,"v":0.2},{"c":"Case 2","t":488,"v":0.02},{"c":"Case 2","t":495,"v":-0.5},{"c":"Case 2","t":503,"v":0.15},{"c":"Case 2","t":512,"v":0.02},{"c":"Case 2","t":524,"v":0.1},{"c":"Case 2","t":536,"v":-0.03},{"c":"Case 2","t":548,"v":0.1},{"c":"Case 2","t":560,"v":0.02},{"c":"Case 2","t":572,"v":0.2},{"c":"Case 2","t":584,"v":-0.03},{"c":"Case 2","t":596,"v":0.1},{"c":"Case 2","t":608,"v":0.4},{"c":"Case 2","t":619,"v":-0.45},{"c":"Case 2","t":626,"v":0.15},{"c":"Case 2","t":638,"v":0.02},{"c":"Case 2","t":647,"v":0.3},{"c":"Case 2","t":653,"v":-0.1},{"c":"Case 2","t":662,"v":0.1},{"c":"Case 2","t":671,"v":-0.1},{"c":"Case 2","t":680,"v":0.15},{"c":"Case 2","t":689,"v":-0.03},{"c":"Case 2","t":698,"v":0.15},{"c":"Case 2","t":707,"v":0.55},{"c":"Case 2","t":716,"v":0.02},{"c":"Case 2","t":725,"v":0.15},{"c":"Case 2","t":734,"v":-0.03},{"c":"Case 2","t":743,"v":0.45},{"c":"Case 2","t":758,"v":-0.45},{"c":"Case 2","t":767,"v":0.02},{"c":"Case 2","t":776,"v":-0.03},{"c":"Case 2","t":785,"v":0.2},{"c":"Case 2","t":794,"v":-0.58},{"c":"Case 2","t":800,"v":0.1}
]
},
"vconcat": [
{
"title": "Estimation errors of wave frequency motion in surge",
"width": 536, "height": 422,
"data": {"name": "surge"},
"encoding": {
"x": {"field": "t", "type": "quantitative", "scale": {"domain": [30, 804], "nice": false, "zero": false}, "axis": {"values": [200, 400, 600, 800], "title": "Time (s)"}},
"y": {"field": "v", "type": "quantitative", "scale": {"domain": [-4, 4.5], "nice": false, "zero": false}, "axis": {"values": [-4, -3, -2, -1, 0, 1, 2, 3, 4], "title": "Estimation errors (m)"}},
"color": {"field": "c", "type": "nominal", "scale": {"domain": ["Case 1", "Case 2", "Case 3"], "range": ["#ff0000", "#000000", "#0000ff"]}, "legend": {"title": null, "encode": {"symbols": {"update": {"strokeWidth": {"signal": "datum.value === 'Case 3' ? 1.5 : 3"}}}}}},
"strokeDash": {"field": "c", "type": "nominal", "scale": {"domain": ["Case 1", "Case 2", "Case 3"], "range": [[10, 4, 2, 4], [1, 0], [1.5, 2.5]]}, "legend": {"title": null, "encode": {"symbols": {"update": {"strokeWidth": {"signal": "datum.value === 'Case 3' ? 1.5 : 3"}}}}}}
},
"layer": [
{"transform": [{"filter": "datum.c === 'Case 3'"}], "mark": {"type": "line", "strokeWidth": 1.2, "opacity": 0.8, "clip": true}, "encoding": {}},
{"transform": [{"filter": "datum.c === 'Case 1'"}], "mark": {"type": "line", "strokeWidth": 3, "clip": true}, "encoding": {}},
{"transform": [{"filter": "datum.c === 'Case 2'"}], "mark": {"type": "line", "strokeWidth": 3, "clip": true}, "encoding": {}}
]
},
{
"title": "Estimation errors of wave frequency motion in sway",
"width": 536, "height": 422,
"data": {"name": "sway"},
"encoding": {
"x": {"field": "t", "type": "quantitative", "scale": {"domain": [0, 800], "nice": false}, "axis": {"values": [0, 200, 400, 600, 800], "title": ["Time (s)", ""], "titleLineHeight": 13.5}},
"y": {"field": "v", "type": "quantitative", "scale": {"domain": [-15, 15], "nice": false}, "axis": {"values": [-15, -10, -5, 0, 5, 10, 15], "title": "Estimation errors (m)"}},
"color": {"field": "c", "type": "nominal", "scale": {"domain": ["Case 1", "Case 2", "Case 3"], "range": ["#ff0000", "#000000", "#0000ff"]}, "legend": {"title": null, "encode": {"symbols": {"update": {"strokeWidth": {"signal": "datum.value === 'Case 3' ? 1.5 : 3"}}}}}},
"strokeDash": {"field": "c", "type": "nominal", "scale": {"domain": ["Case 1", "Case 2", "Case 3"], "range": [[10, 4, 2, 4], [1, 0], [1.5, 2.5]]}, "legend": {"title": null, "encode": {"symbols": {"update": {"strokeWidth": {"signal": "datum.value === 'Case 3' ? 1.5 : 3"}}}}}}
},
"layer": [
{"transform": [{"filter": "datum.c === 'Case 3'"}], "mark": {"type": "line", "strokeWidth": 1.2, "opacity": 0.8, "clip": true}, "encoding": {}},
{"transform": [{"filter": "datum.c === 'Case 1'"}], "mark": {"type": "line", "strokeWidth": 3, "clip": true}, "encoding": {}},
{"transform": [{"filter": "datum.c === 'Case 2'"}], "mark": {"type": "line", "strokeWidth": 3, "clip": true}, "encoding": {}}
]
},
{
"title": "Estimation errors of wave frequency motion in yaw",
"width": 536, "height": 423,
"data": {"name": "yaw"},
"encoding": {
"x": {"field": "t", "type": "quantitative", "scale": {"domain": [0, 800], "nice": false}, "axis": {"values": [0, 200, 400, 600, 800], "title": "Time (s)"}},
"y": {"field": "v", "type": "quantitative", "scale": {"domain": [-6, 8], "nice": false}, "axis": {"values": [-6, -4, -2, 0, 2, 4, 6, 8], "title": "Estimation errors (deg)"}},
"color": {"field": "c", "type": "nominal", "scale": {"domain": ["Case 1", "Case 2", "Case 3"], "range": ["#ff0000", "#000000", "#0000ff"]}, "legend": {"title": null, "encode": {"symbols": {"update": {"strokeWidth": {"signal": "datum.value === 'Case 3' ? 1.5 : 3"}}}}}},
"strokeDash": {"field": "c", "type": "nominal", "scale": {"domain": ["Case 1", "Case 2", "Case 3"], "range": [[10, 4, 2, 4], [1, 0], [1.5, 2.5]]}, "legend": {"title": null, "encode": {"symbols": {"update": {"strokeWidth": {"signal": "datum.value === 'Case 3' ? 1.5 : 3"}}}}}}
},
"layer": [
{"transform": [{"filter": "datum.c === 'Case 3'"}], "mark": {"type": "line", "strokeWidth": 1.2, "opacity": 0.8, "clip": true}, "encoding": {}},
{"transform": [{"filter": "datum.c === 'Case 1'"}], "mark": {"type": "line", "strokeWidth": 3, "clip": true}, "encoding": {}},
{"transform": [{"filter": "datum.c === 'Case 2'"}], "mark": {"type": "line", "strokeWidth": 3, "clip": true}, "encoding": {}}
]
}
],
"config": {
"font": "Liberation Sans",
"view": {"stroke": "#000000", "strokeWidth": 1.5},
"axis": {"labelFont": "Liberation Sans", "labelFontSize": 22, "labelColor": "#000000", "titleFont": "Liberation Sans", "titleFontSize": 22.5, "titleFontWeight": "normal", "titleColor": "#000000", "ticks": false, "tickSize": 0, "domain": false, "grid": true, "gridColor": "#000000", "gridDash": [1, 4], "gridWidth": 0.8, "gridOpacity": 0.8, "labelPadding": 5, "labelFlush": false, "labelOverlap": false},
"axisX": {"labelPadding": 11, "titlePadding": 2},
"axisY": {"titlePadding": 8},
"title": {"font": "Liberation Sans", "fontSize": 23, "fontWeight": "normal", "color": "#000000", "offset": 13},
"legend": {"orient": "top-right", "offset": 7, "padding": 6, "strokeColor": "#000000", "strokeWidth": 1.5, "fillColor": "#ffffff", "labelFont": "Liberation Sans", "labelFontSize": 22.5, "labelColor": "#000000", "symbolType": "stroke", "symbolSize": 2304, "labelOffset": 18, "rowPadding": 5}
}
}
